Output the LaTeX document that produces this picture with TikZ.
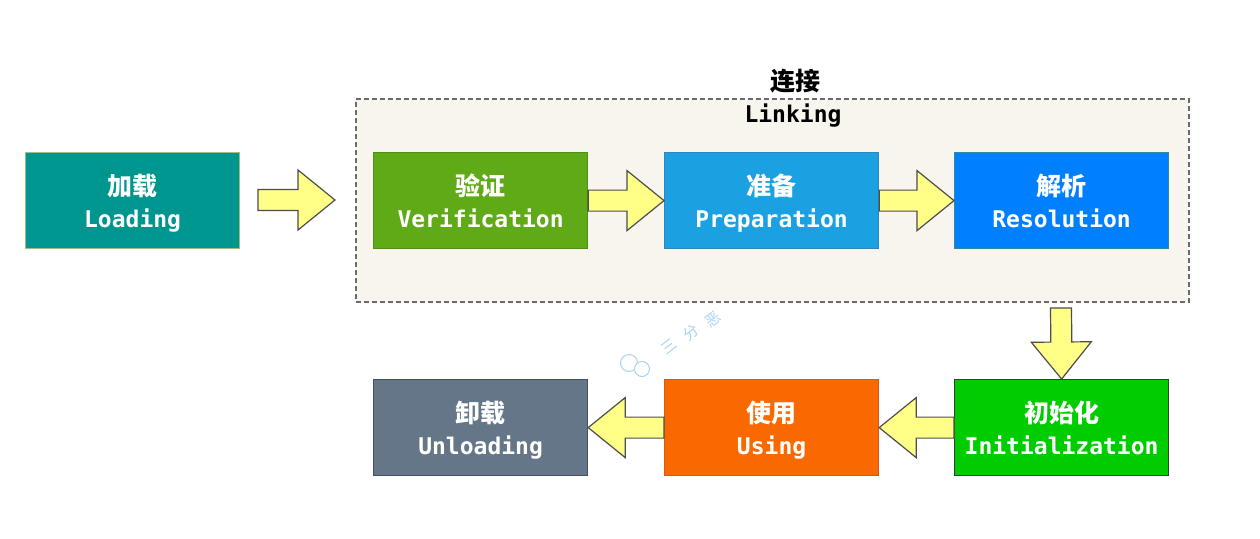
\documentclass[tikz,border=0pt]{standalone}
\usepackage{fontspec}
\setmonofont{DejaVu Sans Mono}
\newfontfamily\cjk{Noto Sans CJK SC}
\usetikzlibrary{calc}

\definecolor{cLoad}{HTML}{009690}
\definecolor{cLoadB}{HTML}{9DBF82}
\definecolor{cVerif}{HTML}{60A917}
\definecolor{cVerifB}{HTML}{4E8F18}
\definecolor{cPrep}{HTML}{1BA1E2}
\definecolor{cPrepB}{HTML}{2F86BE}
\definecolor{cResol}{HTML}{0080FF}
\definecolor{cResolB}{HTML}{2E8B9A}
\definecolor{cInit}{HTML}{00CC00}
\definecolor{cInitB}{HTML}{3A3A3A}
\definecolor{cUsing}{HTML}{FA6800}
\definecolor{cUsingB}{HTML}{D9581A}
\definecolor{cUnload}{HTML}{647687}
\definecolor{cUnloadB}{HTML}{44525F}
\definecolor{linkfill}{HTML}{F7F5EE}
\definecolor{linkedge}{HTML}{6B6B6B}
\definecolor{arrowyellow}{HTML}{FFFF88}
\definecolor{arrowedge}{HTML}{4D4D4D}
\definecolor{wmblue}{HTML}{A9D3F5}

% two-line stage label: Chinese name over English name, baselines 32pt apart
\newcommand\stagetext[2]{%
  \raisebox{-11pt}[0pt][0pt]{\cjk\bfseries\fontsize{25}{32}\selectfont #1}\\
  \raisebox{-11pt}[0pt][0pt]{#2}}

% fat block arrow from #1 to #2 (tip at #2)
\newcommand\fatarrow[2]{%
  \coordinate (fa-h) at ($(#2)!37pt!(#1)$);
  \filldraw[bigarrow]
    ($(#1)!10.5pt!90:(#2)$) -- ($(fa-h)!10.5pt!90:(#2)$) --
    ($(fa-h)!30pt!90:(#2)$) -- (#2) --
    ($(fa-h)!30pt!-90:(#2)$) -- ($(fa-h)!10.5pt!-90:(#2)$) --
    ($(#1)!10.5pt!-90:(#2)$) -- cycle;
}

\begin{document}
\begin{tikzpicture}[x=1pt,y=-1pt,
  stage/.style={draw, line width=1.2pt, minimum width=214pt, minimum height=96pt,
    inner sep=0pt, align=center, text=white, anchor=north west,
    font=\ttfamily\bfseries\fontsize{23}{32}\selectfont},
  bigarrow/.style={fill=arrowyellow, draw=arrowedge, line width=1.2pt, line join=miter},
  title/.style={text=black, inner sep=0pt},
  wmchar/.style={text=wmblue, rotate=38, inner sep=0pt, font=\cjk\fontsize{15}{15}\selectfont}]

\useasboundingbox[fill=white] (0,0) rectangle (1260,538);

% Linking group frame
\node[draw=linkedge, fill=linkfill, line width=1.5pt, dash pattern=on 5pt off 3pt,
  minimum width=833pt, minimum height=203pt, anchor=north west, inner sep=0pt]
  (link) at (355,98) {};
\node[title, font=\cjk\bfseries\fontsize{25}{25}\selectfont] (linkcn) at (795,81) {连接};
\node[title, font=\ttfamily\bfseries\fontsize{23}{23}\selectfont] (linken) at (793,116) {Linking};

% stages
\node[stage, fill=cLoad, draw=cLoadB] (load) at (25,152) {\stagetext{加载}{Loading}};
\node[stage, fill=cVerif, draw=cVerifB] (verif) at (373,152) {\stagetext{验证}{Verification}};
\node[stage, fill=cPrep, draw=cPrepB] (prep) at (664,152) {\stagetext{准备}{Preparation}};
\node[stage, fill=cResol, draw=cResolB] (resol) at (954,152) {\stagetext{解析}{Resolution}};
\node[stage, fill=cInit, draw=cInitB] (init) at (954,379) {\stagetext{初始化}{Initialization}};
\node[stage, fill=cUsing, draw=cUsingB] (using) at (664,379) {\stagetext{使用}{Using}};
\node[stage, fill=cUnload, draw=cUnloadB] (unload) at (373,379) {\stagetext{卸载}{Unloading}};

% flow arrows
\coordinate (a1s) at (258,200);
\coordinate (a1e) at (335,200);
\fatarrow{a1s}{a1e}
\fatarrow{verif.east}{prep.west}
\fatarrow{prep.east}{resol.west}
\coordinate (a4s) at (1061,308);
\fatarrow{a4s}{init.north}
\fatarrow{init.west}{using.east}
\fatarrow{using.west}{unload.east}

% watermark
\draw[wmblue, line width=1pt] (629,363) circle (8.5pt);
\draw[wmblue, line width=1pt, fill=white] (642,369) circle (7.5pt);
\node[wmchar] (wm1) at (669,347) {三};
\node[wmchar] (wm2) at (691,333) {分};
\node[wmchar] (wm3) at (713,320) {恶};

\end{tikzpicture}
\end{document}
